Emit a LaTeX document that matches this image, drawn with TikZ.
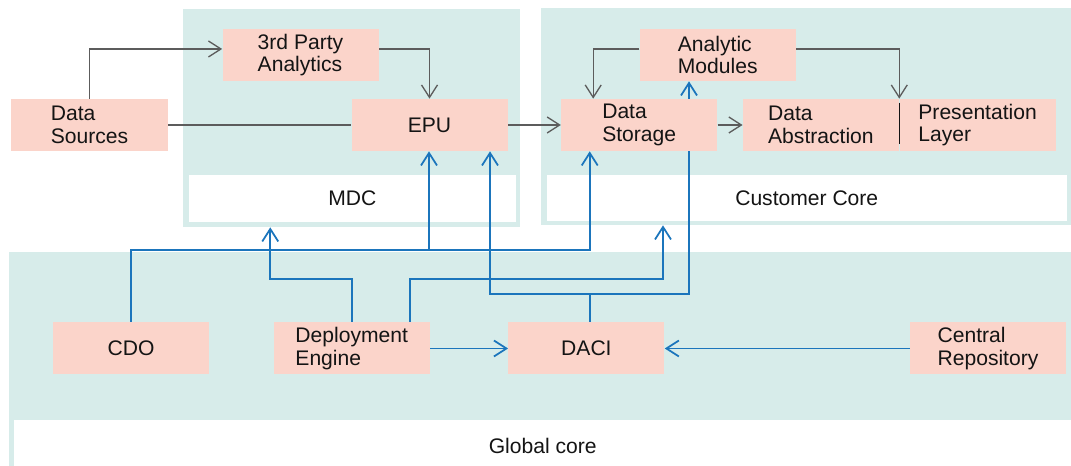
\documentclass[tikz,border=0pt]{standalone}
\usepackage{fontspec}
\setmainfont{Liberation Sans}
\usetikzlibrary{arrows.meta,positioning}
\definecolor{Panel}{HTML}{D7ECEA}
\definecolor{Block}{HTML}{FBD4CA}
\definecolor{Wire}{HTML}{1B75BC}
\definecolor{Grey}{HTML}{5C5C5C}
\definecolor{Ink}{HTML}{141414}
\pgfdeclarelayer{base}
\pgfdeclarelayer{links}
\pgfsetlayers{base,links,main}
\tikzset{
  block/.style={
    fill=Block, text=Ink, minimum width=3.12cm, minimum height=1.04cm,
    inner sep=0pt, align=left, font=\fontsize{12}{12.7}\selectfont
  },
  panel/.style={fill=Panel, inner sep=0pt},
  tag/.style={fill=white, inner sep=0pt, text=Ink, font=\fontsize{12}{12.7}\selectfont},
  flow/.style={-{Straight Barb[length=2.5mm,width=3.2mm]}, draw=Grey, line width=0.75pt},
  plain/.style={draw=Grey, line width=0.75pt},
  wire/.style={-{Straight Barb[length=2.5mm,width=3.2mm]}, draw=Wire, line width=1pt}
}

\begin{document}
\begin{tikzpicture}[x=0.2mm,y=0.2mm]
  \useasboundingbox (0,0) rectangle (1071,466);
  % zones
  \begin{pgfonlayer}{base}
    \node[panel,minimum width=67.5mm,minimum height=43.6mm] (mdc) at (351.25,348) {};
    \node[tag,minimum width=65.5mm,minimum height=9.4mm] (mdctag) at (352.35,267.5) {MDC};
    \node[panel,minimum width=106mm,minimum height=43.4mm] (cc) at (806,349.5) {};
    \node[tag,minimum width=104.1mm,minimum height=9.2mm] (cctag) at (806.75,268) {Customer Core};
    \node[panel,minimum width=212.4mm,minimum height=42.8mm] (glob) at (540.15,107) {};
    \node[tag,minimum width=211.3mm,minimum height=9.2mm] (globtag) at (542.75,23) {};
    \node[tag,fill=none] (globlabel) at (542.75,20) {Global core};
  \end{pgfonlayer}

  % blocks
  \node[block] (src) at (89.5,341) {Data\\Sources};
  \node[block] (tpa) at (300.5,411) {3rd Party\\Analytics};
  \node[block] (epu) at (429.5,341) {EPU};
  \node[block,right=1.06cm of epu] (ds) {Data\\Storage};
  \node[block,right=0.5cm of ds] (da) {Data\\Abstraction};
  \node[block,right=0pt of da] (pl) {Presentation\\Layer};
  \node[block] (am) at (717.75,411) {Analytic\\Modules};
  \node[block] (cdo) at (131,117.5) {CDO};
  \node[block,right=1.28cm of cdo] (de) {Deployment\\Engine};
  \node[block,right=1.56cm of de] (daci) {DACI};
  \node[block] (cr) at (988,117.5) {Central\\Repository};
  \draw[Ink,line width=0.6pt] ([yshift=-0.8mm]da.north east) -- ([yshift=1.4mm]da.south east);

  \begin{pgfonlayer}{links}
    % grey data paths
    \draw[flow] (src.north) |- ([yshift=1.2mm]tpa.west);
    \draw[flow] ([yshift=1.2mm]tpa.east) -| (epu.north);
    \draw[plain] (src.east) -- (epu.west);
    \draw[flow] (epu.east) -- (ds.west);
    \draw[flow] (ds.east) -- (da.west);
    \draw[flow] ([yshift=1.2mm]am.west) -| ([xshift=-9.2mm]ds.north);
    \draw[flow] ([yshift=1.2mm]am.east) -| (da.north east);
    % blue deployment paths
    \draw[wire] (cdo.north) -- ++(0,72.5) -| ([xshift=-9.9mm]ds.south);
    \draw[wire] (cdo.north) ++(0,72.5) -| ([xshift=-0.1mm]epu.south);
    \draw[wire] (de.north) -- ++(0,43) -| ([xshift=-16.2mm]mdc.south);
    \draw[wire] ([xshift=11.6mm]de.north) -- ++(0,43) -| ([xshift=-28.6mm]cc.south);
    \draw[wire] ([xshift=0.7mm]daci.north) -- ++(0,28) -| ([xshift=12.1mm]epu.south);
    \draw[wire] ([xshift=0.7mm]daci.north) -- ++(0,28) -| ([xshift=-5.75mm]am.south);
    \draw[wire] (de.east) -- (daci.west);
    \draw[wire] (cr.west) -- (daci.east);
  \end{pgfonlayer}
\end{tikzpicture}
\end{document}
